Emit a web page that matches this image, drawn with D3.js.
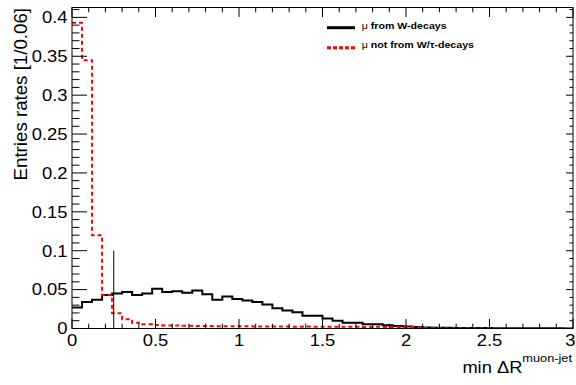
<!DOCTYPE html>
<html>
<head>
<meta charset="utf-8">
<script src="https://cdn.jsdelivr.net/npm/d3@7"></script>
<style>
  html, body { margin: 0; padding: 0; background: #fff; }
  svg { display: block; }
  text { font-family: "Liberation Sans", Arial, Helvetica, sans-serif; }
</style>
</head>
<body>
<svg id="chart" width="576" height="385"></svg>
<script>
// ---- data (bin width 0.06, 50 bins from 0 to 3) ----
const binWidth = 0.06;
const muW = [
  0.027, 0.034, 0.037, 0.043, 0.045, 0.047, 0.043, 0.045, 0.051, 0.047,
  0.048, 0.046, 0.049, 0.044, 0.037, 0.041, 0.038, 0.036, 0.034, 0.031,
  0.026, 0.023, 0.021, 0.0165, 0.0165, 0.013, 0.010, 0.0075, 0.0075, 0.0055,
  0.0055, 0.0042, 0.0033, 0.0025, 0.0018, 0.0014, 0.0011, 0.0009, 0.0008, 0.0007,
  0.0006, 0.0005, 0.0004, 0.0004, 0.0003, 0.0003, 0.0002, 0.0002, 0.0002, 0.0001
];
const muNotW = [
  0.393, 0.345, 0.120, 0.043, 0.0195, 0.012, 0.0075, 0.0055, 0.0045, 0.004,
  0.0038, 0.0035, 0.0033, 0.0032, 0.003, 0.0029, 0.0028, 0.0029, 0.0027, 0.0026,
  0.0027, 0.0025, 0.0024, 0.0025, 0.0023, 0.0024, 0.0022, 0.0021, 0.0022, 0.002,
  0.0021, 0.0019, 0.002, 0.0018, 0.0017, 0.0006, 0.0005, 0.0004, 0.0004, 0.0003,
  0.0003, 0.0003, 0.0002, 0.0002, 0.0002, 0.0002, 0.0001, 0.0001, 0.0001, 0.0001
];
const yTickValues = [0, 0.05, 0.1, 0.15, 0.2, 0.25, 0.3, 0.35, 0.4];
const yTickLabels = ["0", "0.05", "0.1", "0.15", "0.2", "0.25", "0.3", "0.35", "0.4"];
const xTickValues = [0, 0.5, 1, 1.5, 2, 2.5, 3];
const xTickLabels = ["0", "0.5", "1", "1.5", "2", "2.5", "3"];
const cutLine = { x: 0.25, y: 0.1 };
const legendLabels = [["\u03bc", " from W-decays"], ["\u03bc", " not from W/\u03c4-decays"]];

// ---- layout ----
const W = 576;
const L = 72, R = 573, T = 7.5, B = 328.5;
const SX = 1.13; // horizontal glyph stretch of the reference rendering
const x = d3.scaleLinear().domain([0, 3]).range([L, R]);
const y = d3.scaleLinear().domain([0, 0.4127]).range([B, T]);
const svg = d3.select("#chart");

svg.append("clipPath").attr("id", "clip")
  .append("rect").attr("x", L).attr("y", T).attr("width", R - L).attr("height", B - T);

// histograms
function histPts(vals) {
  const pts = vals.map((v, i) => [i * binWidth, v]);
  pts.push([vals.length * binWidth, vals[vals.length - 1]]);
  return pts;
}
const line = d3.line().x(d => x(d[0])).y(d => y(d[1])).curve(d3.curveStepAfter);
const g = svg.append("g").attr("clip-path", "url(#clip)");
g.append("path").attr("d", line(histPts(muW)))
  .attr("fill", "none").attr("stroke", "#000").attr("stroke-width", 2);
g.append("path").attr("d", line(histPts(muNotW)))
  .attr("fill", "none").attr("stroke", "#ff0000").attr("stroke-width", 2)
  .attr("stroke-dasharray", "4,3");
g.append("line")
  .attr("x1", x(cutLine.x)).attr("x2", x(cutLine.x))
  .attr("y1", y(0)).attr("y2", y(cutLine.y))
  .attr("stroke", "#000").attr("stroke-width", 1);

// frame
svg.append("rect").attr("x", L).attr("y", T).attr("width", R - L).attr("height", B - T)
  .attr("fill", "none").attr("stroke", "#000").attr("stroke-width", 1);

// ticks
const tk = svg.append("g").attr("stroke", "#000").attr("stroke-width", 1);
const yMinor = d3.range(0, 42).map(i => i * 0.01);
yMinor.forEach(v => {
  const major = Math.abs(v / 0.05 - Math.round(v / 0.05)) < 1e-6;
  const yy = y(v);
  tk.append("line").attr("x1", L).attr("x2", L + (major ? 15 : 7.5)).attr("y1", yy).attr("y2", yy);
  tk.append("line").attr("x1", R).attr("x2", R - (major ? 7 : 3.5)).attr("y1", yy).attr("y2", yy);
});
const xMinor = d3.range(0, 31).map(i => i * 0.1);
xMinor.forEach(v => {
  const major = Math.abs(v / 0.5 - Math.round(v / 0.5)) < 1e-6;
  const xx = x(v);
  tk.append("line").attr("x1", xx).attr("x2", xx).attr("y1", B).attr("y2", B - (major ? 9.6 : 4.8));
  tk.append("line").attr("x1", xx).attr("x2", xx).attr("y1", T).attr("y2", T + (major ? 9.6 : 4.8));
});

// tick labels
function stext(px, py, str, size, anchor) {
  return svg.append("text")
    .attr("transform", `translate(${px},${py}) scale(${SX},1)`)
    .attr("text-anchor", anchor).attr("font-size", size).text(str);
}
yTickValues.forEach((v, i) => {
  stext(67.5, y(v) + 5.8, yTickLabels[i], 16.3, "end");
});
xTickValues.forEach((v, i) => {
  const t = stext(x(v), 345.5, xTickLabels[i], 16.3, "middle");
  // keep the last label inside the canvas
  const bb = t.node().getBBox();
  const half = bb.width * SX / 2;
  if (x(v) + half > W - 0.5) {
    t.attr("transform", `translate(${W - 0.5},345.5) scale(${SX},1)`).attr("text-anchor", "end");
  }
});

// axis titles
svg.append("text")
  .attr("transform", `translate(27,8) rotate(-90)`)
  .attr("text-anchor", "end").attr("font-size", 18.7)
  .text("Entries rates [1/0.06]");
const xt = svg.append("text")
  .attr("transform", `translate(572,373) scale(${SX},1)`)
  .attr("text-anchor", "end").attr("font-size", 16.2);
xt.append("tspan").text("min \u0394R");
xt.append("tspan").attr("font-size", 11.3).attr("dy", -11).text("muon-jet");

// legend
const leg = svg.append("g");
leg.append("line").attr("x1", 327).attr("x2", 355).attr("y1", 27.7).attr("y2", 27.7)
  .attr("stroke", "#000").attr("stroke-width", 3);
leg.append("line").attr("x1", 327).attr("x2", 355).attr("y1", 47.7).attr("y2", 47.7)
  .attr("stroke", "#ff0000").attr("stroke-width", 3).attr("stroke-dasharray", "4,2");
[28.5, 48.3].forEach((yy, i) => {
  const t = svg.append("text")
    .attr("transform", `translate(361.7,${yy}) scale(${SX},1)`)
    .attr("font-size", 9.4);
  t.append("tspan").text(legendLabels[i][0]);
  t.append("tspan").attr("font-weight", "bold").text(legendLabels[i][1]);
});
</script>
</body>
</html>
